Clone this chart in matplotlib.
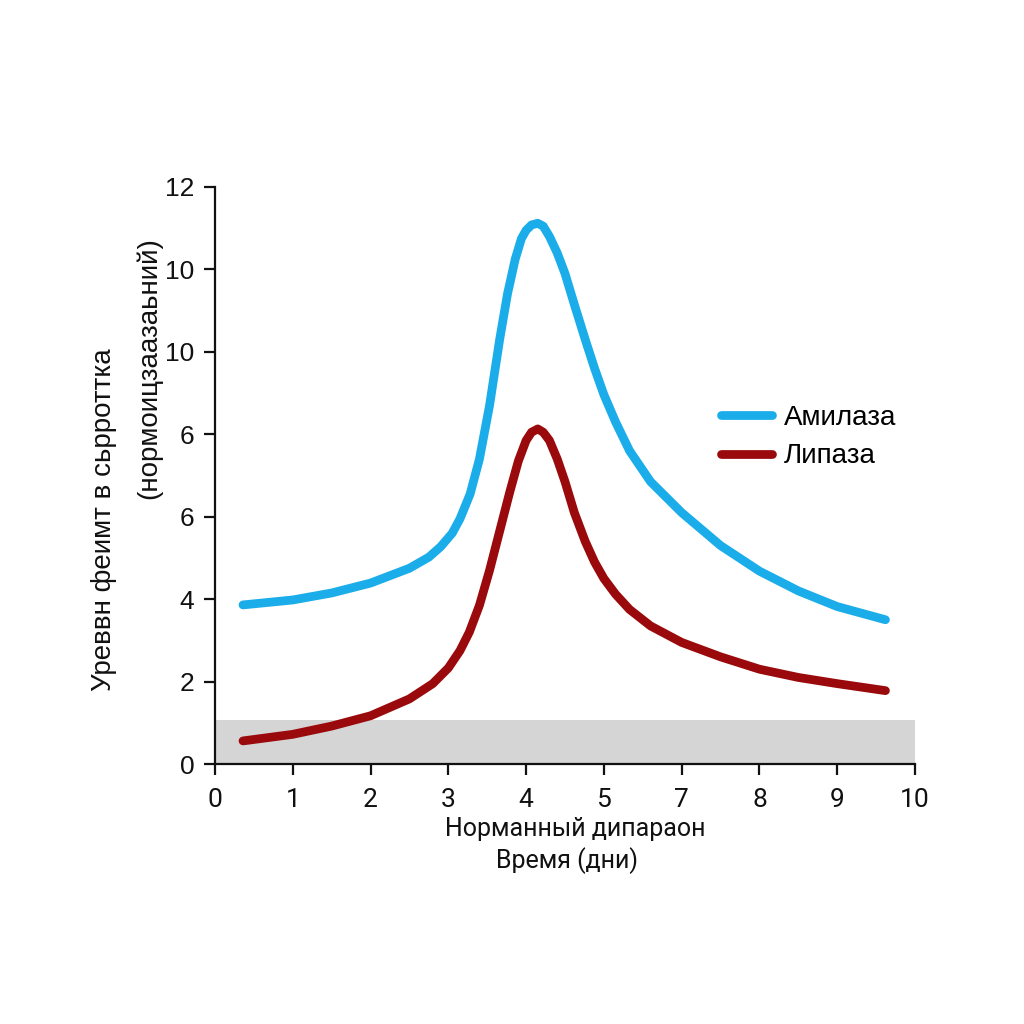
import matplotlib
matplotlib.use("Agg")
import matplotlib.pyplot as plt
from matplotlib.lines import Line2D

# Data (x in tick-position units, y in tick-position units: 2 per labeled tick)
amy_x = [0.36, 1.0, 1.5, 2.0, 2.5, 2.75, 2.9, 3.05, 3.15, 3.28, 3.4, 3.53, 3.66, 3.76, 3.86, 3.94, 4.0, 4.07, 4.15,
         4.22, 4.3, 4.4, 4.5, 4.62, 4.76, 4.88, 5.0, 5.15, 5.33, 5.6, 6.0, 6.5, 7.0, 7.5, 8.0, 8.62]
amy_y = [3.86, 3.98, 4.15, 4.39, 4.75, 5.02, 5.27, 5.6, 5.95, 6.55, 7.4, 8.7, 10.3, 11.4, 12.25, 12.75, 12.95, 13.08, 13.12,
         13.05, 12.8, 12.4, 11.9, 11.15, 10.3, 9.6, 8.96, 8.3, 7.6, 6.85, 6.1, 5.3, 4.68, 4.2, 3.82, 3.5]
lip_x = [0.36, 1.0, 1.5, 2.0, 2.5, 2.8, 3.0, 3.15, 3.27, 3.4, 3.53, 3.66, 3.79, 3.9, 4.0, 4.07, 4.15, 4.22, 4.3, 4.4,
         4.5, 4.62, 4.76, 4.88, 5.0, 5.15, 5.33, 5.6, 6.0, 6.5, 7.0, 7.5, 8.0, 8.62]
lip_y = [0.56, 0.72, 0.92, 1.17, 1.58, 1.95, 2.33, 2.75, 3.2, 3.85, 4.7, 5.65, 6.6, 7.35, 7.85, 8.05, 8.13, 8.05, 7.85, 7.4,
         6.85, 6.1, 5.4, 4.9, 4.5, 4.12, 3.75, 3.35, 2.95, 2.6, 2.3, 2.1, 1.95, 1.78]
normal_range = (0.0, 1.07)

x_tick_labels = ['0', '1', '2', '3', '4', '5', '7', '8', '9', '10']
y_tick_labels = ['0', '2', '4', '6', '6', '10', '10', '12']

series_names = ['Амилаза', 'Липаза']
colors = ['#1AADE9', '#9A0A0C']

fig = plt.figure(figsize=(10.24, 10.24), dpi=100)
fig.patch.set_facecolor('white')
ax = fig.add_axes([215/1024, 1-764/1024, 700/1024, 577/1024])

ax.axhspan(normal_range[0], normal_range[1], color='#D5D5D5', zorder=0, lw=0)
ax.plot(amy_x, amy_y, color=colors[0], lw=6.3, solid_capstyle='round', solid_joinstyle='round', zorder=3)
ax.plot(lip_x, lip_y, color=colors[1], lw=6.3, solid_capstyle='round', solid_joinstyle='round', zorder=3)

ax.set_xlim(0, 9)
ax.set_ylim(0, 14)
ax.set_xticks(range(10))
ax.set_xticklabels(x_tick_labels, fontsize=19, family='Roboto')
ax.set_yticks(range(0, 15, 2))
ax.set_yticklabels(y_tick_labels, fontsize=19, family='Liberation Sans')
ax.tick_params(direction='out', length=8, width=1.6, color='#111111', labelcolor='#111111')
ax.tick_params(axis='y', pad=7)
ax.tick_params(axis='x', pad=9)
for s in ['top', 'right']:
    ax.spines[s].set_visible(False)
for s in ['left', 'bottom']:
    ax.spines[s].set_linewidth(1.6)
    ax.spines[s].set_color('#111111')

fig.text(575/1024, 1-829/1024, 'Норманный дипараон', ha='center', va='center', fontsize=18, family='Roboto', color='#111111')
fig.text(567/1024, 1-861/1024, 'Время (дни)', ha='center', va='center', fontsize=18, family='Roboto', color='#111111')
fig.text(104/1024, 1-520/1024, 'Уреввн феимт в сьрроттка', rotation=90, ha='center', va='center', fontsize=20, family='Liberation Sans', color='#111111')
fig.text(149/1024, 1-368/1024, '(нормоицзаазаьний)', rotation=90, ha='center', va='center', fontsize=20, family='Liberation Sans', color='#111111')

handles = [Line2D([0], [0], color=c, lw=6.3, solid_capstyle='round') for c in colors]
leg = fig.legend(handles, series_names, loc='center left', bbox_to_anchor=(721/1024, 1-437/1024),
                 frameon=False, handlelength=1.85, handletextpad=0.4, labelspacing=0.45,
                 borderpad=0, borderaxespad=0,
                 prop={'family': 'Liberation Sans', 'size': 20})

fig.savefig('out.png', dpi=100, facecolor='white')
